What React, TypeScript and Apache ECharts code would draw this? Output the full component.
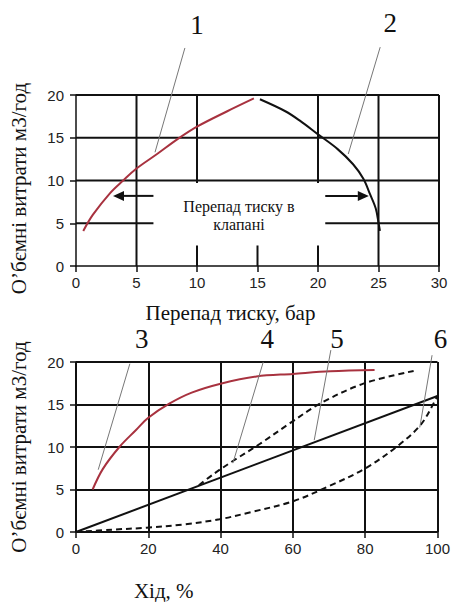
import React, { useEffect, useRef } from "react";
import * as echarts from "echarts";

// ---- Top chart data (pressure drop, bar -> flow m3/h)
const CURVE1_X = [0.6, 1.4, 2.8, 3.9, 5, 6.7, 8.45, 10, 12.5, 14.7];
const CURVE1_Y = [4.1, 6.0, 8.5, 10, 11.4, 13.1, 14.9, 16.3, 18.1, 19.6];
const CURVE2_X = [15.2, 17.3, 18.5, 20, 21.6, 22.9, 23.75, 24.3, 24.78, 25.02, 25.12];
const CURVE2_Y = [19.5, 18.1, 17.0, 15.4, 13.7, 11.9, 10.2, 8.4, 6.7, 4.9, 4.1];
// grid segments [x1, y1, x2, y2] (the grid is broken around the note)
const TOP_GRID_SEGMENTS = [
  [5, 0, 5, 20], [10, 9.7, 10, 20], [10, 0, 10, 2.4], [15, 0, 15, 2.4],
  [20, 9.7, 20, 20], [20, 0, 20, 2.4], [25, 0, 25, 20], [30, 0, 30, 20],
  [0, 5, 6.4, 5], [20.6, 5, 30, 5], [0, 10, 30, 10], [0, 15, 30, 15], [0, 20, 30, 20],
];
// arrows [tailX, tailY, headX, headY]
const TOP_ARROWS = [[6.4, 8.2, 3.06, 8.2], [20.6, 8.2, 24.2, 8.2]];
// leader lines [x1, y1, x2, y2]
const TOP_LEADERS = [[9.0, 25.5, 6.53, 13.3], [25.14, 25.6, 22.5, 13.1]];
const TOP_LABEL_POS = [[9.99, 28.2], [25.97, 28.4]];
const TOP_LABEL_TEXT = ["1", "2"];

// ---- Bottom chart data (stroke % -> flow m3/h)
const CURVE3_X = [4.6, 7.4, 12.0, 16.6, 20, 25.8, 32, 40, 49.9, 60, 70.3, 82.6];
const CURVE3_Y = [5.0, 7.4, 10.0, 12.0, 13.45, 15.1, 16.4, 17.45, 18.3, 18.6, 18.9, 19.05];
const CURVE4_X = [34, 38, 43.4, 50.8, 59.2, 67.5, 79.5, 93.4];
const CURVE4_Y = [5.5, 6.8, 8.35, 10.35, 12.8, 15.1, 17.45, 18.95];
const LINE5_X = [0, 100];
const LINE5_Y = [0, 16];
const CURVE6_X = [0, 10, 19.5, 30, 39.7, 48, 59.9, 70, 80.3, 89.5, 95.5, 99.4, 100];
const CURVE6_Y = [0, 0.28, 0.5, 0.9, 1.5, 2.3, 3.6, 5.4, 7.55, 10.3, 12.7, 15.5, 16];
const BOTTOM_LEADERS = [
  [14.9, 19.8, 6.15, 7.33], [51.8, 20.0, 43.4, 8.1],
  [70.5, 21.4, 65.9, 10.8], [98.5, 20.8, 95.1, 12.3],
];
const BOTTOM_LABEL_POS = [[18.2, 22.7], [52.9, 22.7], [72.2, 22.7], [100.8, 22.7]];
const BOTTOM_LABEL_TEXT = ["3", "4", "5", "6"];

const Y_NAME = "О’бємні витрати м3/год";
const TOP_X_NAME = "Перепад тиску, бар";
const BOTTOM_X_NAME = "Хід, %";
const NOTE_LINES = ["Перепад тиску в", "клапані"];

const SERIF = "'Liberation Serif', 'Times New Roman', serif";
const SANS = "'Liberation Sans', Arial, sans-serif";
const RED = "#a8323f";
const INK = "#111";

const zip = (xs: number[], ys: number[]) => xs.map((x, i) => [x, ys[i]]);

const segRender = (color: string, width: number) => (params: any, api: any) => {
  const p1 = api.coord([api.value(0), api.value(1)]);
  const p2 = api.coord([api.value(2), api.value(3)]);
  return {
    type: "line",
    shape: { x1: p1[0], y1: p1[1], x2: p2[0], y2: p2[1] },
    style: { stroke: color, lineWidth: width },
  };
};

const labelRender = (texts: string[]) => (params: any, api: any) => {
  const p = api.coord([api.value(0), api.value(1)]);
  return {
    type: "text",
    x: p[0],
    y: p[1],
    style: {
      text: texts[params.dataIndex],
      font: `27px ${SERIF}`,
      fill: INK,
      align: "center",
      verticalAlign: "middle",
    },
  };
};

const arrowRender = (params: any, api: any) => {
  const t = api.coord([api.value(0), api.value(1)]);
  const h = api.coord([api.value(2), api.value(3)]);
  const dir = h[0] > t[0] ? 1 : -1;
  const hl = 11;
  return {
    type: "group",
    children: [
      {
        type: "line",
        shape: { x1: t[0], y1: t[1], x2: h[0] - dir * hl, y2: h[1] },
        style: { stroke: INK, lineWidth: 2 },
      },
      {
        type: "polygon",
        shape: { points: [[h[0], h[1]], [h[0] - dir * hl, h[1] - 5], [h[0] - dir * hl, h[1] + 5]] },
        style: { fill: INK },
      },
    ],
  };
};

const axisCommon = {
  axisLine: { show: true, lineStyle: { color: INK, width: 1.5 } },
  axisTick: { show: true, inside: false, length: 6, lineStyle: { color: INK, width: 1.5 } },
  axisLabel: { color: "#222", fontFamily: SANS, fontSize: 15 },
};

const curveLine = (xi: number, xs: number[], ys: number[], color: string, dashed: boolean) => ({
  type: "line",
  xAxisIndex: xi,
  yAxisIndex: xi,
  data: zip(xs, ys),
  smooth: 0.35,
  showSymbol: false,
  lineStyle: { color, width: 2, type: dashed ? [6, 4] : "solid" },
  z: 3,
});

export default function App() {
  const ref = useRef<HTMLDivElement>(null);
  useEffect(() => {
    if (!ref.current) return;
    const chart = echarts.init(ref.current, null, { renderer: "svg" });
    const option: any = {
      animation: false,
      backgroundColor: "#fff",
      grid: [
        { left: 76, top: 95, width: 363, height: 171 },
        { left: 76, top: 362, width: 363, height: 171 },
      ],
      xAxis: [
        {
          type: "value", gridIndex: 0, min: 0, max: 30, interval: 5,
          ...axisCommon,
          axisLabel: { ...axisCommon.axisLabel, margin: 9 },
          splitLine: { show: false },
          name: TOP_X_NAME, nameLocation: "middle", nameGap: 36,
          nameTextStyle: { fontFamily: SERIF, fontSize: 21, color: INK, padding: [0, 54, 0, 0] },
        },
        {
          type: "value", gridIndex: 1, min: 0, max: 100, interval: 20,
          ...axisCommon,
          axisLabel: { ...axisCommon.axisLabel, margin: 9 },
          splitLine: { show: true, lineStyle: { color: INK, width: 2 } },
          name: BOTTOM_X_NAME, nameLocation: "middle", nameGap: 48,
          nameTextStyle: { fontFamily: SERIF, fontSize: 21, color: INK, padding: [0, 186, 0, 0] },
        },
      ],
      yAxis: [
        {
          type: "value", gridIndex: 0, min: 0, max: 20, interval: 5,
          ...axisCommon,
          axisLabel: { ...axisCommon.axisLabel, margin: 12 },
          splitLine: { show: false },
          name: Y_NAME, nameLocation: "middle", nameGap: 47,
          nameTextStyle: { fontFamily: SERIF, fontSize: 21, color: INK, padding: [0, 16, 0, 0] },
        },
        {
          type: "value", gridIndex: 1, min: 0, max: 20, interval: 5,
          ...axisCommon,
          axisLabel: { ...axisCommon.axisLabel, margin: 12 },
          splitLine: { show: true, lineStyle: { color: INK, width: 2 } },
          name: Y_NAME, nameLocation: "middle", nameGap: 47,
          nameTextStyle: { fontFamily: SERIF, fontSize: 21, color: INK },
        },
      ],
      series: [
        {
          type: "custom", xAxisIndex: 0, yAxisIndex: 0, silent: true,
          renderItem: segRender(INK, 2), data: TOP_GRID_SEGMENTS,
        },
        curveLine(0, CURVE1_X, CURVE1_Y, RED, false),
        curveLine(0, CURVE2_X, CURVE2_Y, INK, false),
        {
          type: "custom", xAxisIndex: 0, yAxisIndex: 0, silent: true,
          renderItem: arrowRender, data: TOP_ARROWS, z: 4,
        },
        {
          type: "custom", xAxisIndex: 0, yAxisIndex: 0, silent: true,
          renderItem: segRender("#777", 1), data: TOP_LEADERS, z: 4,
        },
        {
          type: "custom", xAxisIndex: 0, yAxisIndex: 0, silent: true,
          renderItem: labelRender(TOP_LABEL_TEXT), data: TOP_LABEL_POS, z: 4,
        },
        curveLine(1, CURVE3_X, CURVE3_Y, RED, false),
        curveLine(1, CURVE4_X, CURVE4_Y, INK, true),
        {
          type: "line", xAxisIndex: 1, yAxisIndex: 1, data: zip(LINE5_X, LINE5_Y),
          showSymbol: false, lineStyle: { color: INK, width: 2 }, z: 3,
        },
        curveLine(1, CURVE6_X, CURVE6_Y, INK, true),
        {
          type: "custom", xAxisIndex: 1, yAxisIndex: 1, silent: true,
          renderItem: segRender("#777", 1), data: BOTTOM_LEADERS, z: 4,
        },
        {
          type: "custom", xAxisIndex: 1, yAxisIndex: 1, silent: true,
          renderItem: labelRender(BOTTOM_LABEL_TEXT), data: BOTTOM_LABEL_POS, z: 4,
        },
      ],
      graphic: [
        {
          type: "text", x: 239, y: 206, z: 10,
          style: { text: NOTE_LINES[0], font: `16px ${SERIF}`, fill: INK, align: "center", verticalAlign: "middle" },
        },
        {
          type: "text", x: 239, y: 224, z: 10,
          style: { text: NOTE_LINES[1], font: `16px ${SERIF}`, fill: INK, align: "center", verticalAlign: "middle" },
        },
      ],
    };
    chart.setOption(option);
    return () => chart.dispose();
  }, []);
  return (
    <div
      ref={ref}
      style={{ position: "fixed", left: 0, top: 0, width: 453, height: 602, background: "#fff" }}
    />
  );
}
